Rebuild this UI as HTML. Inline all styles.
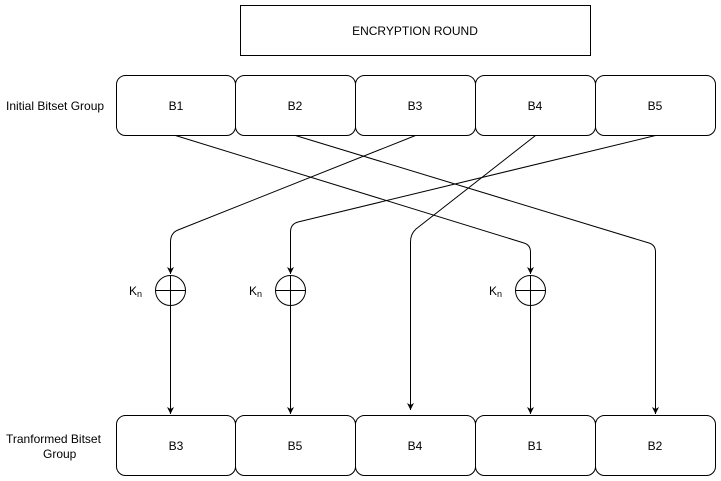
<!DOCTYPE html>
<html><head><style>body{margin:0;background:#fff}svg{display:block}</style></head><body>
<svg width="721" height="481" xmlns="http://www.w3.org/2000/svg" font-family="Liberation Sans, Arial, sans-serif" font-size="12">
<defs><marker id="a" markerWidth="8" markerHeight="8" refX="7" refY="4" orient="auto" markerUnits="userSpaceOnUse"><path d="M0,0.5 L7,4 L0,7.5 L2,4 Z" fill="#000"/></marker></defs>
<rect x="240.5" y="5.5" width="350" height="50" fill="#fff" stroke="#000"/>
<text x="415" y="35" text-anchor="middle">ENCRYPTION ROUND</text>
<g fill="#fff" stroke="#000">
<rect x="116.5" y="75.5" width="119" height="60" rx="9"/><rect x="235.5" y="75.5" width="120" height="60" rx="9"/><rect x="355.5" y="75.5" width="120" height="60" rx="9"/><rect x="475.5" y="75.5" width="120" height="60" rx="9"/><rect x="595.5" y="75.5" width="120" height="60" rx="9"/>
<rect x="116.5" y="415.5" width="119" height="60" rx="9"/><rect x="235.5" y="415.5" width="120" height="60" rx="9"/><rect x="355.5" y="415.5" width="120" height="60" rx="9"/><rect x="475.5" y="415.5" width="120" height="60" rx="9"/><rect x="595.5" y="415.5" width="120" height="60" rx="9"/>
</g>
<g text-anchor="middle">
<text x="176" y="110">B1</text><text x="295" y="110">B2</text><text x="415" y="110">B3</text><text x="535" y="110">B4</text><text x="655" y="110">B5</text>
<text x="176" y="450">B3</text><text x="295" y="450">B5</text><text x="415" y="450">B4</text><text x="535" y="450">B1</text><text x="655" y="450">B2</text>
</g>
<text x="6" y="110">Initial Bitset Group</text>
<text x="6" y="443">Tranformed Bitset</text><text x="43" y="458">Group</text>
<g fill="none" stroke="#000">
<path d="M175.5,135.5 L524,243 Q530.5,245 530.5,252 L530.5,274" marker-end="url(#a)"/>
<path d="M295.5,135.5 L649,243 Q655.5,245 655.5,252 L655.5,414" marker-end="url(#a)"/>
<path d="M415.5,135.5 L178,230 Q170.5,233 170.5,242 L170.5,274" marker-end="url(#a)"/>
<path d="M535.5,135.5 L416,229 Q410.5,234 410.5,242 L410.5,410" marker-end="url(#a)"/>
<path d="M655.5,135.5 L298,222 Q290.5,224 290.5,232 L290.5,274" marker-end="url(#a)"/>
<path d="M170.5,305 L170.5,414" marker-end="url(#a)"/>
<path d="M290.5,305 L290.5,414" marker-end="url(#a)"/>
<path d="M530.5,305 L530.5,414" marker-end="url(#a)"/>
<circle cx="170.5" cy="290.5" r="15"/><path d="M155.5,290.5H185.5M170.5,275.5V305.5"/>
<circle cx="290.5" cy="290.5" r="15"/><path d="M275.5,290.5H305.5M290.5,275.5V305.5"/>
<circle cx="530.5" cy="290.5" r="15"/><path d="M515.5,290.5H545.5M530.5,275.5V305.5"/>
</g>
<text x="129" y="295">K<tspan font-size="9" dy="2">n</tspan></text>
<text x="249" y="295">K<tspan font-size="9" dy="2">n</tspan></text>
<text x="489" y="295">K<tspan font-size="9" dy="2">n</tspan></text>
</svg>
</body></html>
